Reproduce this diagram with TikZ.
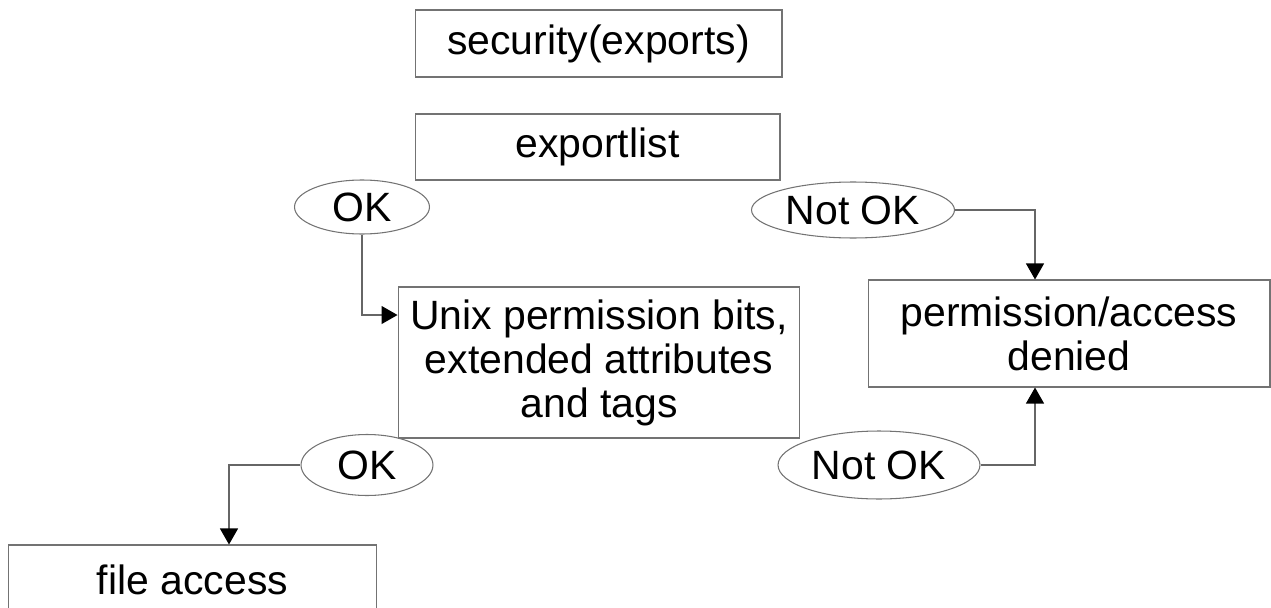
\documentclass[tikz,border=0pt]{standalone}
\usepackage{fontspec}
\setmainfont{Liberation Sans}
\usepackage{tikz}
\usetikzlibrary{shapes.geometric,arrows.meta}

\begin{document}
\begin{tikzpicture}[x=0.02cm, y=-0.02cm,
        box/.style={draw=black!55, line width=0.6pt, rectangle, inner sep=0pt, align=center,
                    font=\fontsize{23.3}{25}\selectfont},
        answer/.style={draw=black!55, line width=0.6pt, ellipse, inner sep=0pt,
                    font=\fontsize{23.3}{25}\selectfont},
        flow/.style={draw=black!60, line width=0.6pt, -{Triangle[length=0.32cm,width=0.36cm,black]}}]
        \useasboundingbox (0,0) rectangle (1271,608);
        % boxes
        \node[box, minimum width=7.34cm, minimum height=1.34cm] (security) at (598.5,43.5) {security(exports)};
        \node[box, minimum width=7.3cm, minimum height=1.32cm] (exportlist) at (597.5,147) {exportlist};
        \node[box, minimum width=8.04cm, minimum height=3.02cm] (unixbits) at (599,362.5) {Unix permission bits,\\extended attributes\\and tags};
        \node[box, minimum width=8.04cm, minimum height=2.14cm] (denied) at (1069,333.5) {permission/access\\denied};
        \node[box, minimum width=7.38cm, minimum height=1.4cm] (fileaccess) at (192.5,580) {file access};
        % answers
        \node[answer, minimum width=2.7cm, minimum height=1.08cm] (okexport) at (362,207) {OK};
        \node[answer, minimum width=4.06cm, minimum height=1.12cm] (notokexport) at (853,210) {Not OK};
        \node[answer, minimum width=2.64cm, minimum height=1.22cm] (okbits) at (367,465) {OK};
        \node[answer, minimum width=4.04cm, minimum height=1.36cm] (notokbits) at (879,465) {Not OK};
        % connectors
        \draw[flow] (okexport.south) |- ([yshift=0.95cm]unixbits.west);
        \draw[flow] (notokexport.east) -| ([xshift=-0.68cm]denied.north);
        \draw[flow] (notokbits.east) -| ([xshift=-0.68cm]denied.south);
        \draw[flow] (okbits.west) -| ([xshift=0.73cm]fileaccess.north);
    \end{tikzpicture}
\end{document}
